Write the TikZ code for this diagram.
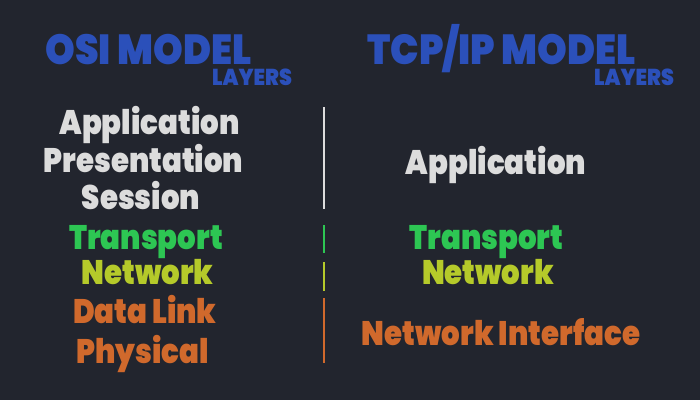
\documentclass[tikz,border=0pt]{standalone}
\usepackage{fontspec}
\newfontfamily\layfont{Poppins Black}[FakeStretch=0.86]
\newfontfamily\ttlfont{Poppins Black}[FakeStretch=0.9]
\definecolor{bg}{HTML}{22252E}
\definecolor{ttl}{HTML}{2B50BA}
\definecolor{wht}{HTML}{DCDCDC}
\definecolor{grn}{HTML}{2DC653}
\definecolor{ylw}{HTML}{B5CA2A}
\definecolor{org}{HTML}{D0692C}
\begin{document}
\begin{tikzpicture}[x=1pt,y=-1pt,
  title/.style={inner sep=0, anchor=base, text depth=0pt, text=ttl, font=\ttlfont\fontsize{42}{42}\selectfont},
  sub/.style={inner sep=0, anchor=base, text height=16pt, text depth=0pt, text=ttl, font=\ttlfont\fontsize{23}{23}\selectfont},
  lay/.style={inner sep=0, anchor=base, font=\layfont\fontsize{34}{34}\selectfont},
  div/.style={line width=2.5pt}]
\fill[bg] (0,0) rectangle (700,400);
\useasboundingbox (0,0) rectangle (700,400);
\node[title] (osi) at (148.5,64) {OSI MODEL};
\node[sub] (osil) at (252,85) {LAYERS};
\node[title] (tcp) at (501.5,64) {TCP/IP MODEL};
\node[sub] (tcpl) at (634,85) {LAYERS};
% left column
\node[lay,text=wht] (app) at (149.5,134) {Application};
\node[lay,text=wht] (pres) at (143.5,172) {Presentation};
\node[lay,text=wht] (sess) at (141,209) {Session};
\node[lay,text=grn] (tr) at (146,249) {Transport};
\node[lay,text=ylw] (net) at (147.5,284) {Network};
\node[lay,text=org] (dl) at (145,323) {Data Link};
\node[lay,text=org] (ph) at (142.5,363) {Physical};
% right column
\node[lay,text=wht] (rapp) at (496,174) {Application};
\node[lay,text=grn] (rtr) at (486.5,249) {Transport};
\node[lay,text=ylw] (rnet) at (488,284) {Network};
\node[lay,text=org] (rni) at (501,345) {Network Interface};
% dividers
\coordinate (w1) at (324,107); \coordinate (w2) at (324,209);
\coordinate (g1) at (324,225); \coordinate (g2) at (324,253);
\coordinate (y1) at (324,262); \coordinate (y2) at (324,291);
\coordinate (o1) at (324,298); \coordinate (o2) at (324,363);
\draw[div,wht] (w1) -- (w2);
\draw[div,grn] (g1) -- (g2);
\draw[div,ylw] (y1) -- (y2);
\draw[div,org] (o1) -- (o2);
\end{tikzpicture}
\end{document}
